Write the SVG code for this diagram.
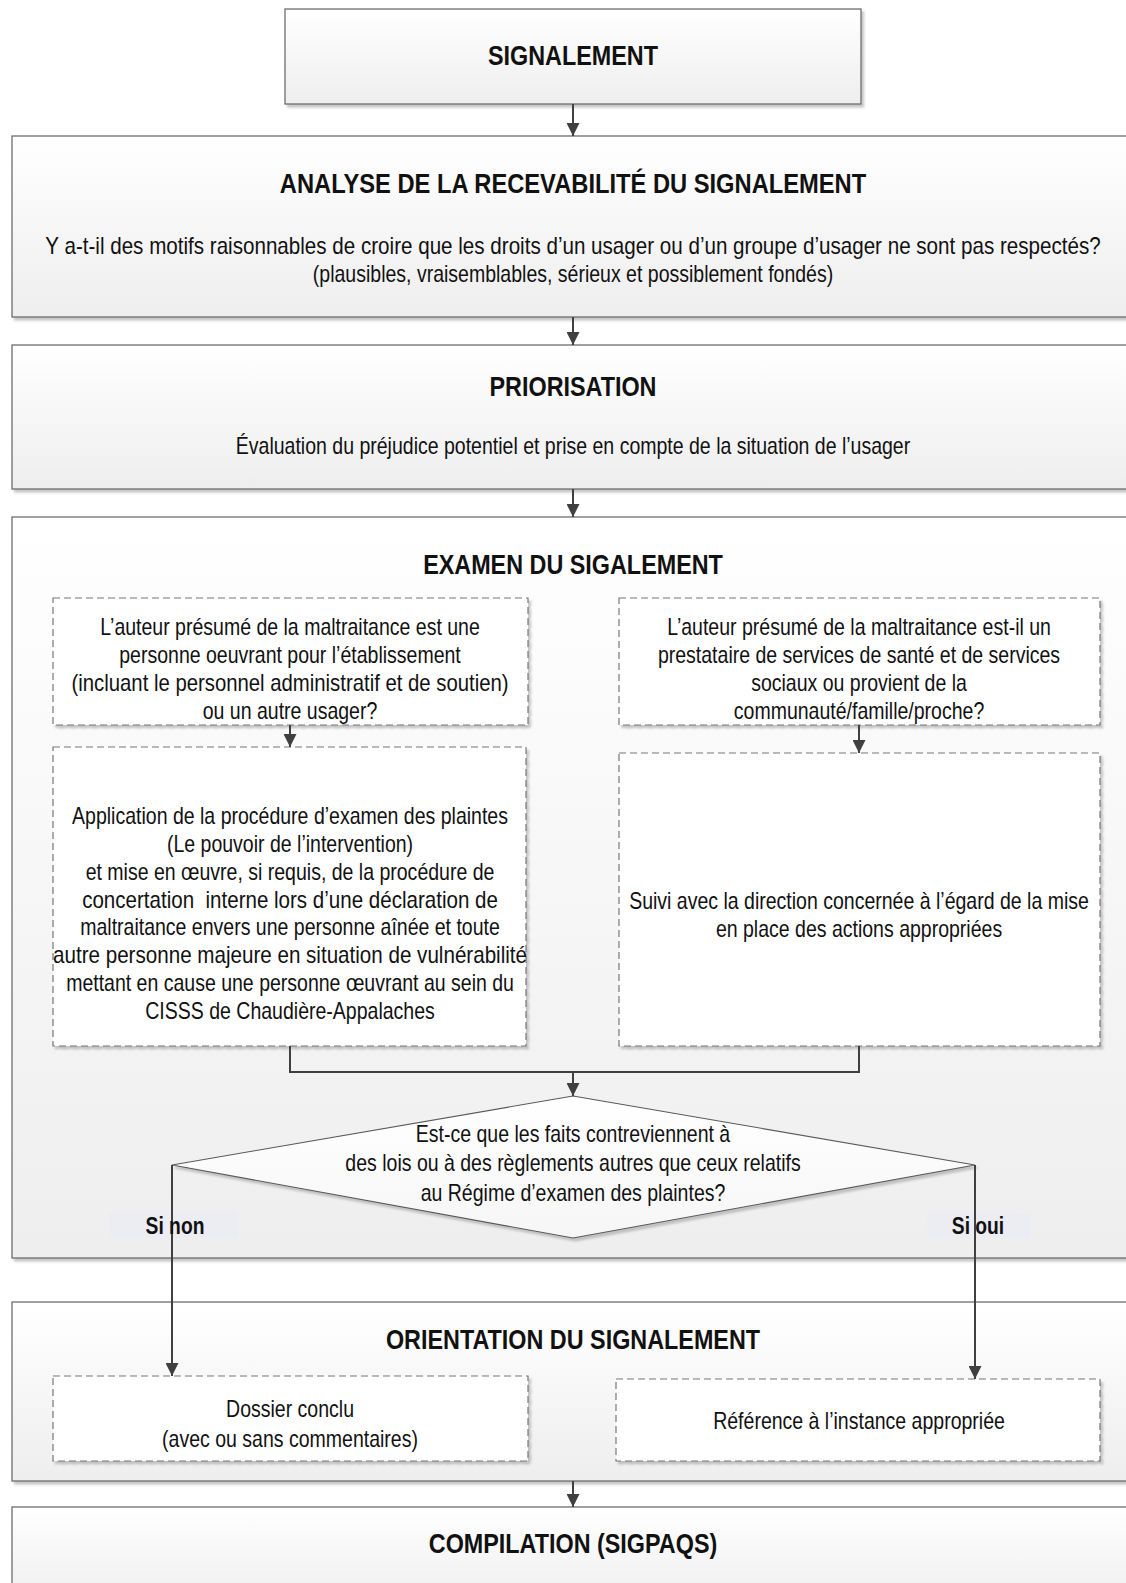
<svg xmlns="http://www.w3.org/2000/svg" width="1126" height="1583" viewBox="0 0 1126 1583">
<style>
  .big { fill: url(#gBig); stroke: #6e6e6e; stroke-width: 1.3; filter: url(#sh); }
  .dash { fill: #ffffff; stroke: #777777; stroke-width: 1.2; stroke-dasharray: 7 4; filter: url(#sh); }
  .dia { fill: url(#gDia); stroke: #5a5a5a; stroke-width: 1.1; filter: url(#sh); }
  .t { font-family: "Liberation Sans", Arial, sans-serif; fill: #111; text-anchor: middle; }
  .h { font-size: 28.5px; font-weight: bold; }
  .b { font-size: 23.8px; }
  .lb { font-size: 23.5px; font-weight: bold; }
  .con { fill: none; stroke: #404040; stroke-width: 2; }
  .arr { marker-end: url(#ah); }
  .lbg { fill: #ececf3; }
</style>
<defs>
  <linearGradient id="gBig" x1="0" y1="0" x2="0" y2="1">
    <stop offset="0" stop-color="#ffffff"/>
    <stop offset="1" stop-color="#eeeeee"/>
  </linearGradient>
  <linearGradient id="gDia" x1="0" y1="0" x2="0" y2="1">
    <stop offset="0" stop-color="#ffffff"/>
    <stop offset="1" stop-color="#f6f6f6"/>
  </linearGradient>
  <filter id="sh" x="-5%" y="-5%" width="110%" height="115%">
    <feDropShadow dx="2.5" dy="3" stdDeviation="1.2" flood-color="#9a9a9a" flood-opacity="0.55"/>
  </filter>
  <marker id="ah" viewBox="0 0 12 12" refX="12" refY="6" markerWidth="13" markerHeight="13" markerUnits="userSpaceOnUse" orient="auto">
    <path d="M0,0 L12,6 L0,12 z" fill="#404040"/>
  </marker>
</defs>

<g id="n-signalement">
  <rect class="big" x="285" y="9" width="576" height="95"/>
  <g transform="scale(0.82,1)">
    <text class="t h" x="698.8" y="65">SIGNALEMENT</text>
  </g>
</g>

<g id="n-analyse">
  <rect class="big" x="12" y="136" width="1125" height="181"/>
  <g transform="scale(0.82,1)">
    <text class="t h" x="698.8" y="193" textLength="715" lengthAdjust="spacingAndGlyphs">ANALYSE DE LA RECEVABILITÉ DU SIGNALEMENT</text>
    <text class="t b" x="698.8" y="254" textLength="1287" lengthAdjust="spacingAndGlyphs">Y a-t-il des motifs raisonnables de croire que les droits d’un usager ou d’un groupe d’usager ne sont pas respectés?</text>
    <text class="t b" x="698.8" y="282">(plausibles, vraisemblables, sérieux et possiblement fondés)</text>
  </g>
</g>

<g id="n-priorisation">
  <rect class="big" x="12" y="345" width="1125" height="144"/>
  <g transform="scale(0.82,1)">
    <text class="t h" x="698.8" y="396">PRIORISATION</text>
    <text class="t b" x="698.8" y="454">Évaluation du préjudice potentiel et prise en compte de la situation de l’usager</text>
  </g>
</g>

<g id="n-examen">
  <rect class="big" x="12" y="517" width="1125" height="741"/>
  <g transform="scale(0.82,1)">
    <text class="t h" x="698.8" y="574">EXAMEN DU SIGALEMENT</text>
  </g>
</g>

<g id="n-auteur-etab">
  <rect class="dash" x="53" y="598" width="475" height="127"/>
  <g transform="scale(0.82,1)">
    <text class="t b" x="353.7" y="635">L’auteur présumé de la maltraitance est une</text>
    <text class="t b" x="353.7" y="663">personne oeuvrant pour l’établissement</text>
    <text class="t b" x="353.7" y="691" textLength="533" lengthAdjust="spacingAndGlyphs">(incluant le personnel administratif et de soutien)</text>
    <text class="t b" x="353.7" y="719">ou un autre usager?</text>
  </g>
</g>

<g id="n-auteur-prest">
  <rect class="dash" x="619" y="598" width="481" height="127"/>
  <g transform="scale(0.82,1)">
    <text class="t b" x="1047.6" y="635">L’auteur présumé de la maltraitance est-il un</text>
    <text class="t b" x="1047.6" y="663">prestataire de services de santé et de services</text>
    <text class="t b" x="1047.6" y="691">sociaux ou provient de la</text>
    <text class="t b" x="1047.6" y="719">communauté/famille/proche?</text>
  </g>
</g>

<g id="n-application">
  <rect class="dash" x="53" y="747" width="473" height="299"/>
  <g transform="scale(0.82,1)">
    <text class="t b" x="353.7" y="824">Application de la procédure d’examen des plaintes</text>
    <text class="t b" x="353.7" y="852">(Le pouvoir de l’intervention)</text>
    <text class="t b" x="353.7" y="880">et mise en œuvre, si requis, de la procédure de</text>
    <text class="t b" x="353.7" y="908" xml:space="preserve" textLength="507" lengthAdjust="spacingAndGlyphs">concertation  interne lors d’une déclaration de</text>
    <text class="t b" x="353.7" y="935">maltraitance envers une personne aînée et toute</text>
    <text class="t b" x="353.7" y="963" textLength="578" lengthAdjust="spacingAndGlyphs">autre personne majeure en situation de vulnérabilité</text>
    <text class="t b" x="353.7" y="991">mettant en cause une personne œuvrant au sein du</text>
    <text class="t b" x="353.7" y="1019">CISSS de Chaudière-Appalaches</text>
  </g>
</g>

<g id="n-suivi">
  <rect class="dash" x="619" y="753" width="481" height="293"/>
  <g transform="scale(0.82,1)">
    <text class="t b" x="1047.6" y="909">Suivi avec la direction concernée à l’égard de la mise</text>
    <text class="t b" x="1047.6" y="937">en place des actions appropriées</text>
  </g>
</g>

<g id="n-decision">
  <polygon class="dia" points="573,1096 975,1165 573,1238 172,1165"/>
  <g transform="scale(0.82,1)">
    <text class="t b" x="698.8" y="1142">Est-ce que les faits contreviennent à</text>
    <text class="t b" x="698.8" y="1171">des lois ou à des règlements autres que ceux relatifs</text>
    <text class="t b" x="698.8" y="1201">au Régime d’examen des plaintes?</text>
  </g>
</g>

<g id="n-orientation">
  <rect class="big" x="12" y="1302" width="1125" height="179"/>
  <g transform="scale(0.82,1)">
    <text class="t h" x="698.8" y="1349">ORIENTATION DU SIGNALEMENT</text>
  </g>
</g>

<g id="n-dossier">
  <rect class="dash" x="53" y="1376" width="475" height="85"/>
  <g transform="scale(0.82,1)">
    <text class="t b" x="353.7" y="1417">Dossier conclu</text>
    <text class="t b" x="353.7" y="1447">(avec ou sans commentaires)</text>
  </g>
</g>

<g id="n-reference">
  <rect class="dash" x="616" y="1379" width="484" height="82"/>
  <g transform="scale(0.82,1)">
    <text class="t b" x="1047.6" y="1429">Référence à l’instance appropriée</text>
  </g>
</g>

<g id="n-compilation">
  <rect class="big" x="12" y="1507" width="1125" height="100"/>
  <g transform="scale(0.82,1)">
    <text class="t h" x="698.8" y="1553">COMPILATION (SIGPAQS)</text>
  </g>
</g>

<g id="connectors">
  <path class="con arr" d="M573,104 V136"/>
  <path class="con arr" d="M573,317 V345"/>
  <path class="con arr" d="M573,489 V517"/>
  <path class="con arr" d="M290,725 V747"/>
  <path class="con arr" d="M859,725 V753"/>
  <path class="con" d="M290,1046 V1072 H859 V1046"/>
  <path class="con arr" d="M573,1072 V1096"/>
  <rect class="lbg" x="109" y="1213" width="129" height="25"/>
  <rect class="lbg" x="927" y="1213" width="103" height="25"/>
  <path class="con arr" d="M172,1165 V1376"/>
  <path class="con arr" d="M975,1165 V1379"/>
  <g transform="scale(0.82,1)">
    <text class="t lb" x="213.4" y="1234">Si non</text>
    <text class="t lb" x="1192.7" y="1234">Si oui</text>
  </g>
  <path class="con arr" d="M573,1481 V1507"/>
</g>
</svg>
